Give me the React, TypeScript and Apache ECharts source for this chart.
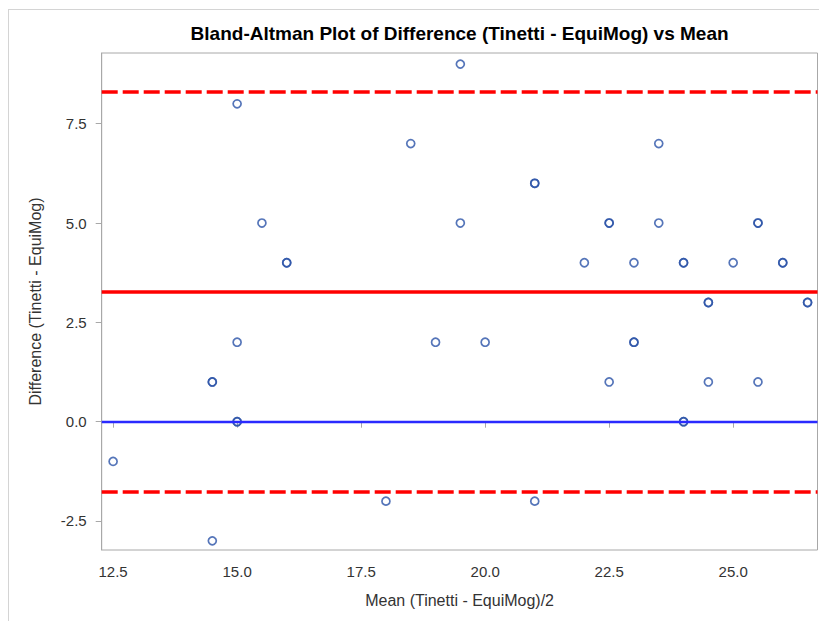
import React, { useEffect, useRef } from "react";
import * as echarts from "echarts";

const meanX = [
  12.5, 14.5, 14.5, 14.5, 15, 15, 15, 15, 15.5, 16, 16, 18, 18.5, 19, 19.5, 19.5, 20, 21, 21, 21,
  22, 22.5, 22.5, 22.5, 23, 23, 23, 23.5, 23.5, 24, 24, 24, 24, 24.5, 24.5, 24.5, 25, 25.5, 25.5,
  25.5, 26, 26, 26.5, 26.5,
];
const diffY = [
  -1, 1, 1, -3, 8, 2, 0, 0, 5, 4, 4, -2, 7, 2, 9, 5, 2, 6, 6, -2,
  4, 5, 5, 1, 4, 2, 2, 7, 5, 4, 4, 0, 0, 3, 3, 1, 4, 5, 5,
  1, 4, 4, 3, 3,
];
const meanDiff = 3.27;
const upperLoA = 8.31;
const lowerLoA = -1.76;
const xTicks = [12.5, 15, 17.5, 20, 22.5, 25];
const yTicks = [-2.5, 0, 2.5, 5, 7.5];

const FONT = "'Liberation Sans', Arial, sans-serif";

export default function App() {
  const ref = useRef<HTMLDivElement>(null);
  useEffect(() => {
    if (!ref.current) return;
    const chart = echarts.init(ref.current, null, { renderer: "svg" });
    const points = meanX.map((x, i) => [x, diffY[i]]);
    chart.setOption({
      animation: false,
      backgroundColor: "#ffffff",
      textStyle: { fontFamily: FONT },
      title: {
        text: "Bland-Altman Plot of Difference (Tinetti - EquiMog) vs Mean",
        left: 459.6,
        textAlign: "center",
        top: 24,
        padding: 0,
        textStyle: { fontFamily: FONT, fontSize: 19, fontWeight: "bold", color: "#000000" },
      },
      graphic: [
        { type: "line", shape: { x1: 8.5, y1: 9, x2: 8.5, y2: 621 }, style: { stroke: "#d4d4d4", lineWidth: 1 } },
        { type: "line", shape: { x1: 8, y1: 9.5, x2: 819, y2: 9.5 }, style: { stroke: "#d4d4d4", lineWidth: 1 } },
      ],
      grid: {
        left: 101.7,
        top: 53,
        right: 1.5,
        bottom: 71,
        show: true,
        borderColor: "#a8a8a8",
        borderWidth: 1,
        containLabel: false,
      },
      xAxis: {
        type: "value",
        min: 12.27,
        max: 26.7,
        name: "Mean (Tinetti - EquiMog)/2",
        nameLocation: "middle",
        nameGap: 42,
        nameTextStyle: { fontFamily: FONT, fontSize: 16, color: "#333333" },
        axisLine: { show: true, lineStyle: { color: "#a8a8a8", width: 1 } },
        axisTick: { show: true, length: 6, customValues: xTicks, lineStyle: { color: "#a8a8a8" } },
        axisLabel: {
          customValues: xTicks,
          margin: 14,
          fontFamily: FONT,
          fontSize: 15,
          color: "#333333",
          formatter: (v: number) => v.toFixed(1),
        },
        splitLine: { show: false },
      },
      yAxis: {
        type: "value",
        min: -3.23,
        max: 9.28,
        name: "Difference (Tinetti - EquiMog)",
        nameLocation: "middle",
        nameGap: 58,
        nameRotate: 90,
        nameTextStyle: { fontFamily: FONT, fontSize: 16, color: "#333333" },
        axisLine: { show: true, lineStyle: { color: "#a8a8a8", width: 1 } },
        axisTick: { show: true, length: 6, customValues: yTicks, lineStyle: { color: "#a8a8a8" } },
        axisLabel: {
          customValues: yTicks,
          margin: 15,
          fontFamily: FONT,
          fontSize: 15,
          color: "#333333",
          formatter: (v: number) => v.toFixed(1),
        },
        splitLine: { show: false },
      },
      series: [
        {
          type: "scatter",
          data: points,
          symbol: "circle",
          symbolSize: 8,
          itemStyle: { color: "rgba(0,0,0,0)", borderColor: "#2a52a8", borderWidth: 1.7 },
          silent: true,
          markLine: {
            silent: true,
            symbol: ["none", "none"],
            label: { show: false },
            data: [
              { yAxis: upperLoA, lineStyle: { color: "#ff0000", width: 3.5, type: [16, 5] } },
              { yAxis: meanDiff, lineStyle: { color: "#ff0000", width: 3.5, type: "solid" } },
              { yAxis: 0, lineStyle: { color: "#2a2aff", width: 2.3, type: "solid" } },
              { yAxis: lowerLoA, lineStyle: { color: "#ff0000", width: 3.5, type: [16, 5] } },
            ],
          },
        },
      ],
    });
    return () => chart.dispose();
  }, []);
  return (
    <div
      ref={ref}
      style={{ position: "fixed", left: 0, top: 0, width: 819, height: 621 }}
    />
  );
}
